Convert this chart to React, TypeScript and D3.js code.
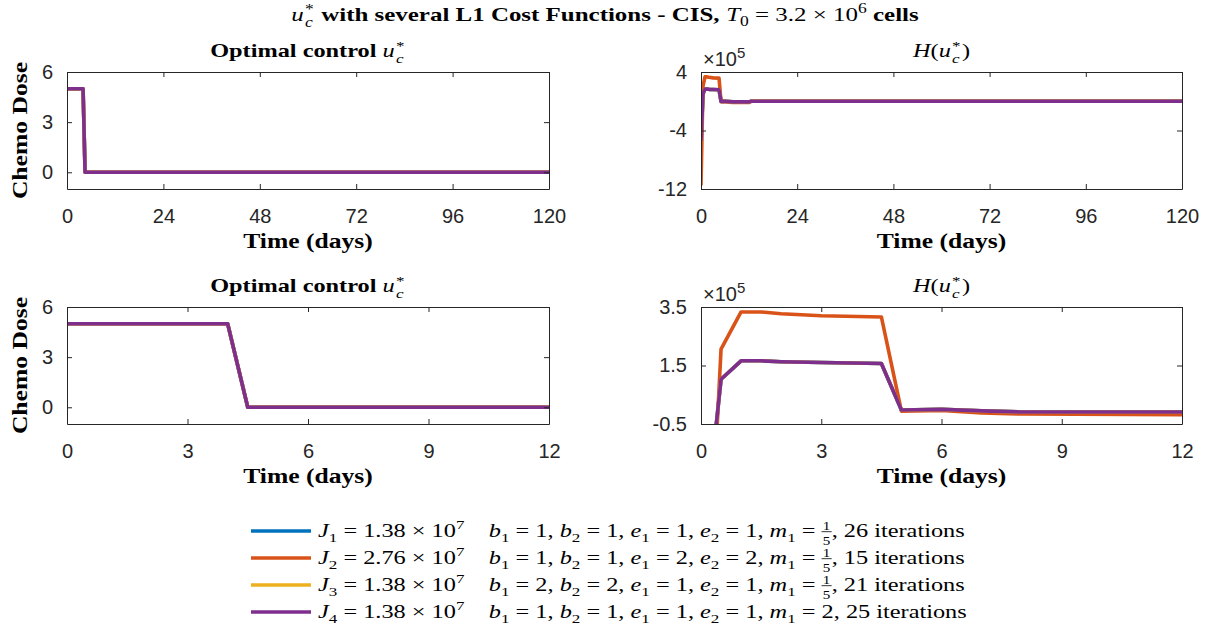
import React, { useEffect, useRef } from 'react';
import * as d3 from 'd3';

// series order as in the legend
const seriesColors = ['#0072BD', '#D95319', '#EDB120', '#7E2F8E'];

// chemo dose u_c* (same for all four cost functions)
const uTime = [0, 4, 4.5, 120];
const uJ1 = [5, 5, 0, 0];
const uJ2 = [5, 5, 0, 0];
const uJ3 = [5, 5, 0, 0];
const uJ4 = [5, 5, 0, 0];

// Hamiltonian H(u_c*), in units of 1e5
const hTime = [0, 0.5, 1, 1.5, 2, 3, 4.5, 5, 6, 7, 8, 12, 12.5, 120];
const hJ1 = [-5.45, 1.03, 1.66, 1.66, 1.63, 1.6, 1.57, -0.02, 0.0, -0.05, -0.09, -0.09, 0.0, 0.0];
const hJ2 = [-11.5, 2.06, 3.33, 3.33, 3.27, 3.2, 3.16, -0.06, -0.04, -0.12, -0.16, -0.18, 0.0, 0.0];
const hJ3 = [-5.45, 1.03, 1.66, 1.66, 1.63, 1.6, 1.57, -0.02, 0.0, -0.05, -0.09, -0.09, 0.0, 0.0];
const hJ4 = [-5.45, 1.03, 1.66, 1.66, 1.63, 1.6, 1.57, -0.02, 0.0, -0.05, -0.09, -0.09, 0.0, 0.0];

const xTicksLong = [0, 24, 48, 72, 96, 120];
const xTicksShort = [0, 3, 6, 9, 12];
const uTicks = [0, 3, 6];
const hTicksLong = [-12, -4, 4];
const hTicksShort = [-0.5, 1.5, 3.5];

// legend
const legendJ = ['1.38', '2.76', '1.38', '1.38'];
const legendB = ['1', '1', '2', '1'];
const legendE = ['1', '2', '1', '1'];
const legendM = ['1/5', '1/5', '1/5', '2'];
const legendIter = [26, 15, 21, 25];

const SANS = '"Liberation Sans", Arial, sans-serif';
const SERIF = '"Liberation Serif", "Times New Roman", serif';
const AX = '#262626';
// LaTeX (Computer Modern) text is much wider than Times, so stretch it
const SX = 1.28;

type Piece = {
  s?: string; it?: boolean; b?: boolean;
  sub?: string; sup?: string; subsup?: [string, string];
  frac?: [string, string]; gap?: number;
};

function drawRich(
  parent: d3.Selection<any, any, any, any>,
  pieces: Piece[], x: number, y: number, size: number,
  anchor: 'start' | 'middle', bold = false
) {
  const g = parent.append('g');
  let cx = 0;
  const add = (txt: string, px: number, py: number, fs: number, it: boolean, b: boolean) => {
    const t = g.append('text')
      .attr('x', px).attr('y', py)
      .attr('font-size', fs).attr('font-family', SERIF)
      .attr('font-style', it ? 'italic' : 'normal')
      .attr('font-weight', b ? 'bold' : 'normal')
      .attr('fill', '#000')
      .style('white-space', 'pre')
      .text(txt);
    return t;
  };
  const w = (t: d3.Selection<SVGTextElement, any, any, any>) => (t.node() as SVGTextElement).getComputedTextLength();
  pieces.forEach(p => {
    if (p.gap) { cx += p.gap; return; }
    if (p.s !== undefined) {
      cx += w(add(p.s, cx, 0, size, !!p.it, p.b ?? (bold && !p.it)));
    } else if (p.sub !== undefined) {
      cx += w(add(p.sub, cx, size * 0.28, size * 0.7, !!p.it, false));
    } else if (p.sup !== undefined) {
      cx += w(add(p.sup, cx, -size * 0.42, size * 0.7, false, false));
    } else if (p.subsup) {
      const a = w(add(p.subsup[0], cx + 1, size * 0.3, size * 0.7, true, false));
      const b = w(add(p.subsup[1], cx + 1, -size * 0.38, size * 0.7, false, false));
      cx += Math.max(a, b) + 2;
    } else if (p.frac) {
      const fs = size * 0.62;
      const tn = add(p.frac[0], 0, -size * 0.38, fs, false, false);
      const td = add(p.frac[1], 0, size * 0.42, fs, false, false);
      const fw = Math.max(w(tn), w(td)) + 2;
      tn.attr('x', cx + (fw - w(tn)) / 2);
      td.attr('x', cx + (fw - w(td)) / 2);
      g.append('line')
        .attr('x1', cx).attr('x2', cx + fw)
        .attr('y1', -size * 0.28).attr('y2', -size * 0.28)
        .attr('stroke', '#000').attr('stroke-width', 0.7);
      cx += fw;
    }
  });
  const off = anchor === 'middle' ? (cx * SX) / 2 : 0;
  g.attr('transform', `translate(${x - off},${y}) scale(${SX},1)`);
  return g;
}

const App: React.FC = () => {
  const svgRef = useRef<SVGSVGElement>(null);

  useEffect(() => {
    if (!svgRef.current) return;
    const svg = d3.select(svgRef.current);
    svg.selectAll('*').remove();

    const uSeries = [uJ1, uJ2, uJ3, uJ4];
    const hSeries = [hJ1, hJ2, hJ3, hJ4];

    const panels = [
      { x0: 67, x1: 549, y0: 72, y1: 189, xd: [0, 120], yd: [-1, 6], xt: xTicksLong, yt: uTicks, t: uTime, s: uSeries, kind: 'u' },
      { x0: 701, x1: 1182, y0: 72, y1: 189, xd: [0, 120], yd: [-12, 4], xt: xTicksLong, yt: hTicksLong, t: hTime, s: hSeries, kind: 'h' },
      { x0: 67, x1: 549, y0: 307, y1: 424, xd: [0, 12], yd: [-1, 6], xt: xTicksShort, yt: uTicks, t: uTime, s: uSeries, kind: 'u' },
      { x0: 701, x1: 1182, y0: 307, y1: 424, xd: [0, 12], yd: [-0.5, 3.5], xt: xTicksShort, yt: hTicksShort, t: hTime, s: hSeries, kind: 'h' },
    ];

    panels.forEach((p, i) => {
      const x = d3.scaleLinear().domain(p.xd).range([p.x0, p.x1]);
      const y = d3.scaleLinear().domain(p.yd).range([p.y1, p.y0]);
      const g = svg.append('g');

      const clipId = `clip${i}`;
      svg.append('clipPath').attr('id', clipId)
        .append('rect')
        .attr('x', p.x0).attr('y', p.y0)
        .attr('width', p.x1 - p.x0).attr('height', p.y1 - p.y0);

      // lines
      const line = d3.line<[number, number]>().x(d => x(d[0])).y(d => y(d[1]));
      const lg = g.append('g').attr('clip-path', `url(#${clipId})`);
      p.s.forEach((vals, k) => {
        lg.append('path')
          .datum(p.t.map((tt, j) => [tt, vals[j]] as [number, number]))
          .attr('fill', 'none')
          .attr('stroke', seriesColors[k])
          .attr('stroke-width', 3.6)
          .attr('stroke-linejoin', 'round')
          .attr('d', line);
      });

      // axes (box with mirrored ticks)
      const styleAxis = (a: d3.Selection<SVGGElement, any, any, any>) => {
        a.attr('font-family', SANS).attr('font-size', 20);
        a.selectAll('path').attr('stroke', AX).attr('stroke-width', 1);
        a.selectAll('line').attr('stroke', AX).attr('stroke-width', 1);
        a.selectAll('text').attr('fill', AX);
      };
      const fmt = (d: d3.NumberValue) => String(d);
      g.append('g').attr('transform', `translate(0,${p.y1})`)
        .call(d3.axisBottom(x).tickValues(p.xt).tickSize(-5).tickSizeOuter(0).tickPadding(20).tickFormat(fmt))
        .call(styleAxis);
      g.append('g').attr('transform', `translate(0,${p.y0})`)
        .call(d3.axisTop(x).tickValues(p.xt).tickSize(-5).tickSizeOuter(0).tickFormat(() => ''))
        .call(styleAxis);
      g.append('g').attr('transform', `translate(${p.x0},0)`)
        .call(d3.axisLeft(y).tickValues(p.yt).tickSize(-5).tickSizeOuter(0).tickPadding(14).tickFormat(fmt))
        .call(styleAxis);
      g.append('g').attr('transform', `translate(${p.x1},0)`)
        .call(d3.axisRight(y).tickValues(p.yt).tickSize(-5).tickSizeOuter(0).tickFormat(() => ''))
        .call(styleAxis);

      const cxm = (p.x0 + p.x1) / 2;
      // x label
      drawRich(svg, [{ s: 'Time (days)' }], cxm, p.y1 + 59, 20, 'middle', true);

      if (p.kind === 'u') {
        drawRich(svg, [{ s: 'Optimal control ' }, { s: 'u', it: true }, { subsup: ['c', '*'] }],
          cxm, p.y0 - 15, 19, 'middle', true);
        const cy = (p.y0 + p.y1) / 2;
        const yl = svg.append('g').attr('transform', `translate(27,${cy}) rotate(-90)`);
        drawRich(yl, [{ s: 'Chemo Dose' }], 0, 0, 20, 'middle', true);
      } else {
        drawRich(svg, [{ s: 'H', it: true }, { s: '(' }, { s: 'u', it: true }, { subsup: ['c', '*'] }, { s: ')' }],
          cxm, p.y0 - 15, 19, 'middle');
        const ex = svg.append('text').attr('x', p.x0 + 2).attr('y', p.y0 - 6)
          .attr('font-family', SANS).attr('font-size', 20).attr('fill', AX);
        ex.append('tspan').text('×10');
        ex.append('tspan').attr('dy', -8).attr('font-size', 15).text('5');
      }
    });

    // main title
    drawRich(svg, [
      { s: 'u', it: true }, { subsup: ['c', '*'] },
      { s: ' with several L1 Cost Functions - CIS, ', b: true },
      { s: 'T', it: true }, { sub: '0' }, { s: ' = 3.2 × 10' }, { sup: '6' },
      { s: ' cells', b: true },
    ], 605, 21, 19.5, 'middle');

    // legend
    const legendX = 251;
    const legendY0 = 531;
    const rowH = 27;
    legendJ.forEach((jv, k) => {
      const yy = legendY0 + k * rowH;
      svg.append('line')
        .attr('x1', legendX).attr('x2', legendX + 60)
        .attr('y1', yy).attr('y2', yy)
        .attr('stroke', seriesColors[k]).attr('stroke-width', 3.6);
      const m: Piece = legendM[k].includes('/')
        ? { frac: legendM[k].split('/') as [string, string] }
        : { s: legendM[k] };
      drawRich(svg, [
        { s: 'J', it: true }, { sub: String(k + 1) }, { s: ' = ' + jv + ' × 10' }, { sup: '7' },
        { gap: 19 },
        { s: 'b', it: true }, { sub: '1' }, { s: ' = ' + legendB[k] + ', ' },
        { s: 'b', it: true }, { sub: '2' }, { s: ' = ' + legendB[k] + ', ' },
        { s: 'e', it: true }, { sub: '1' }, { s: ' = ' + legendE[k] + ', ' },
        { s: 'e', it: true }, { sub: '2' }, { s: ' = ' + legendE[k] + ', ' },
        { s: 'm', it: true }, { sub: '1' }, { s: ' = ' }, m,
        { s: ', ' + legendIter[k] + ' iterations' },
      ], legendX + 67, yy + 6, 19, 'start');
    });
  }, []);

  return (
    <svg
      ref={svgRef}
      width={1209}
      height={628}
      style={{ position: 'absolute', left: 0, top: 0, background: '#fff' }}
    />
  );
};

export default App;
